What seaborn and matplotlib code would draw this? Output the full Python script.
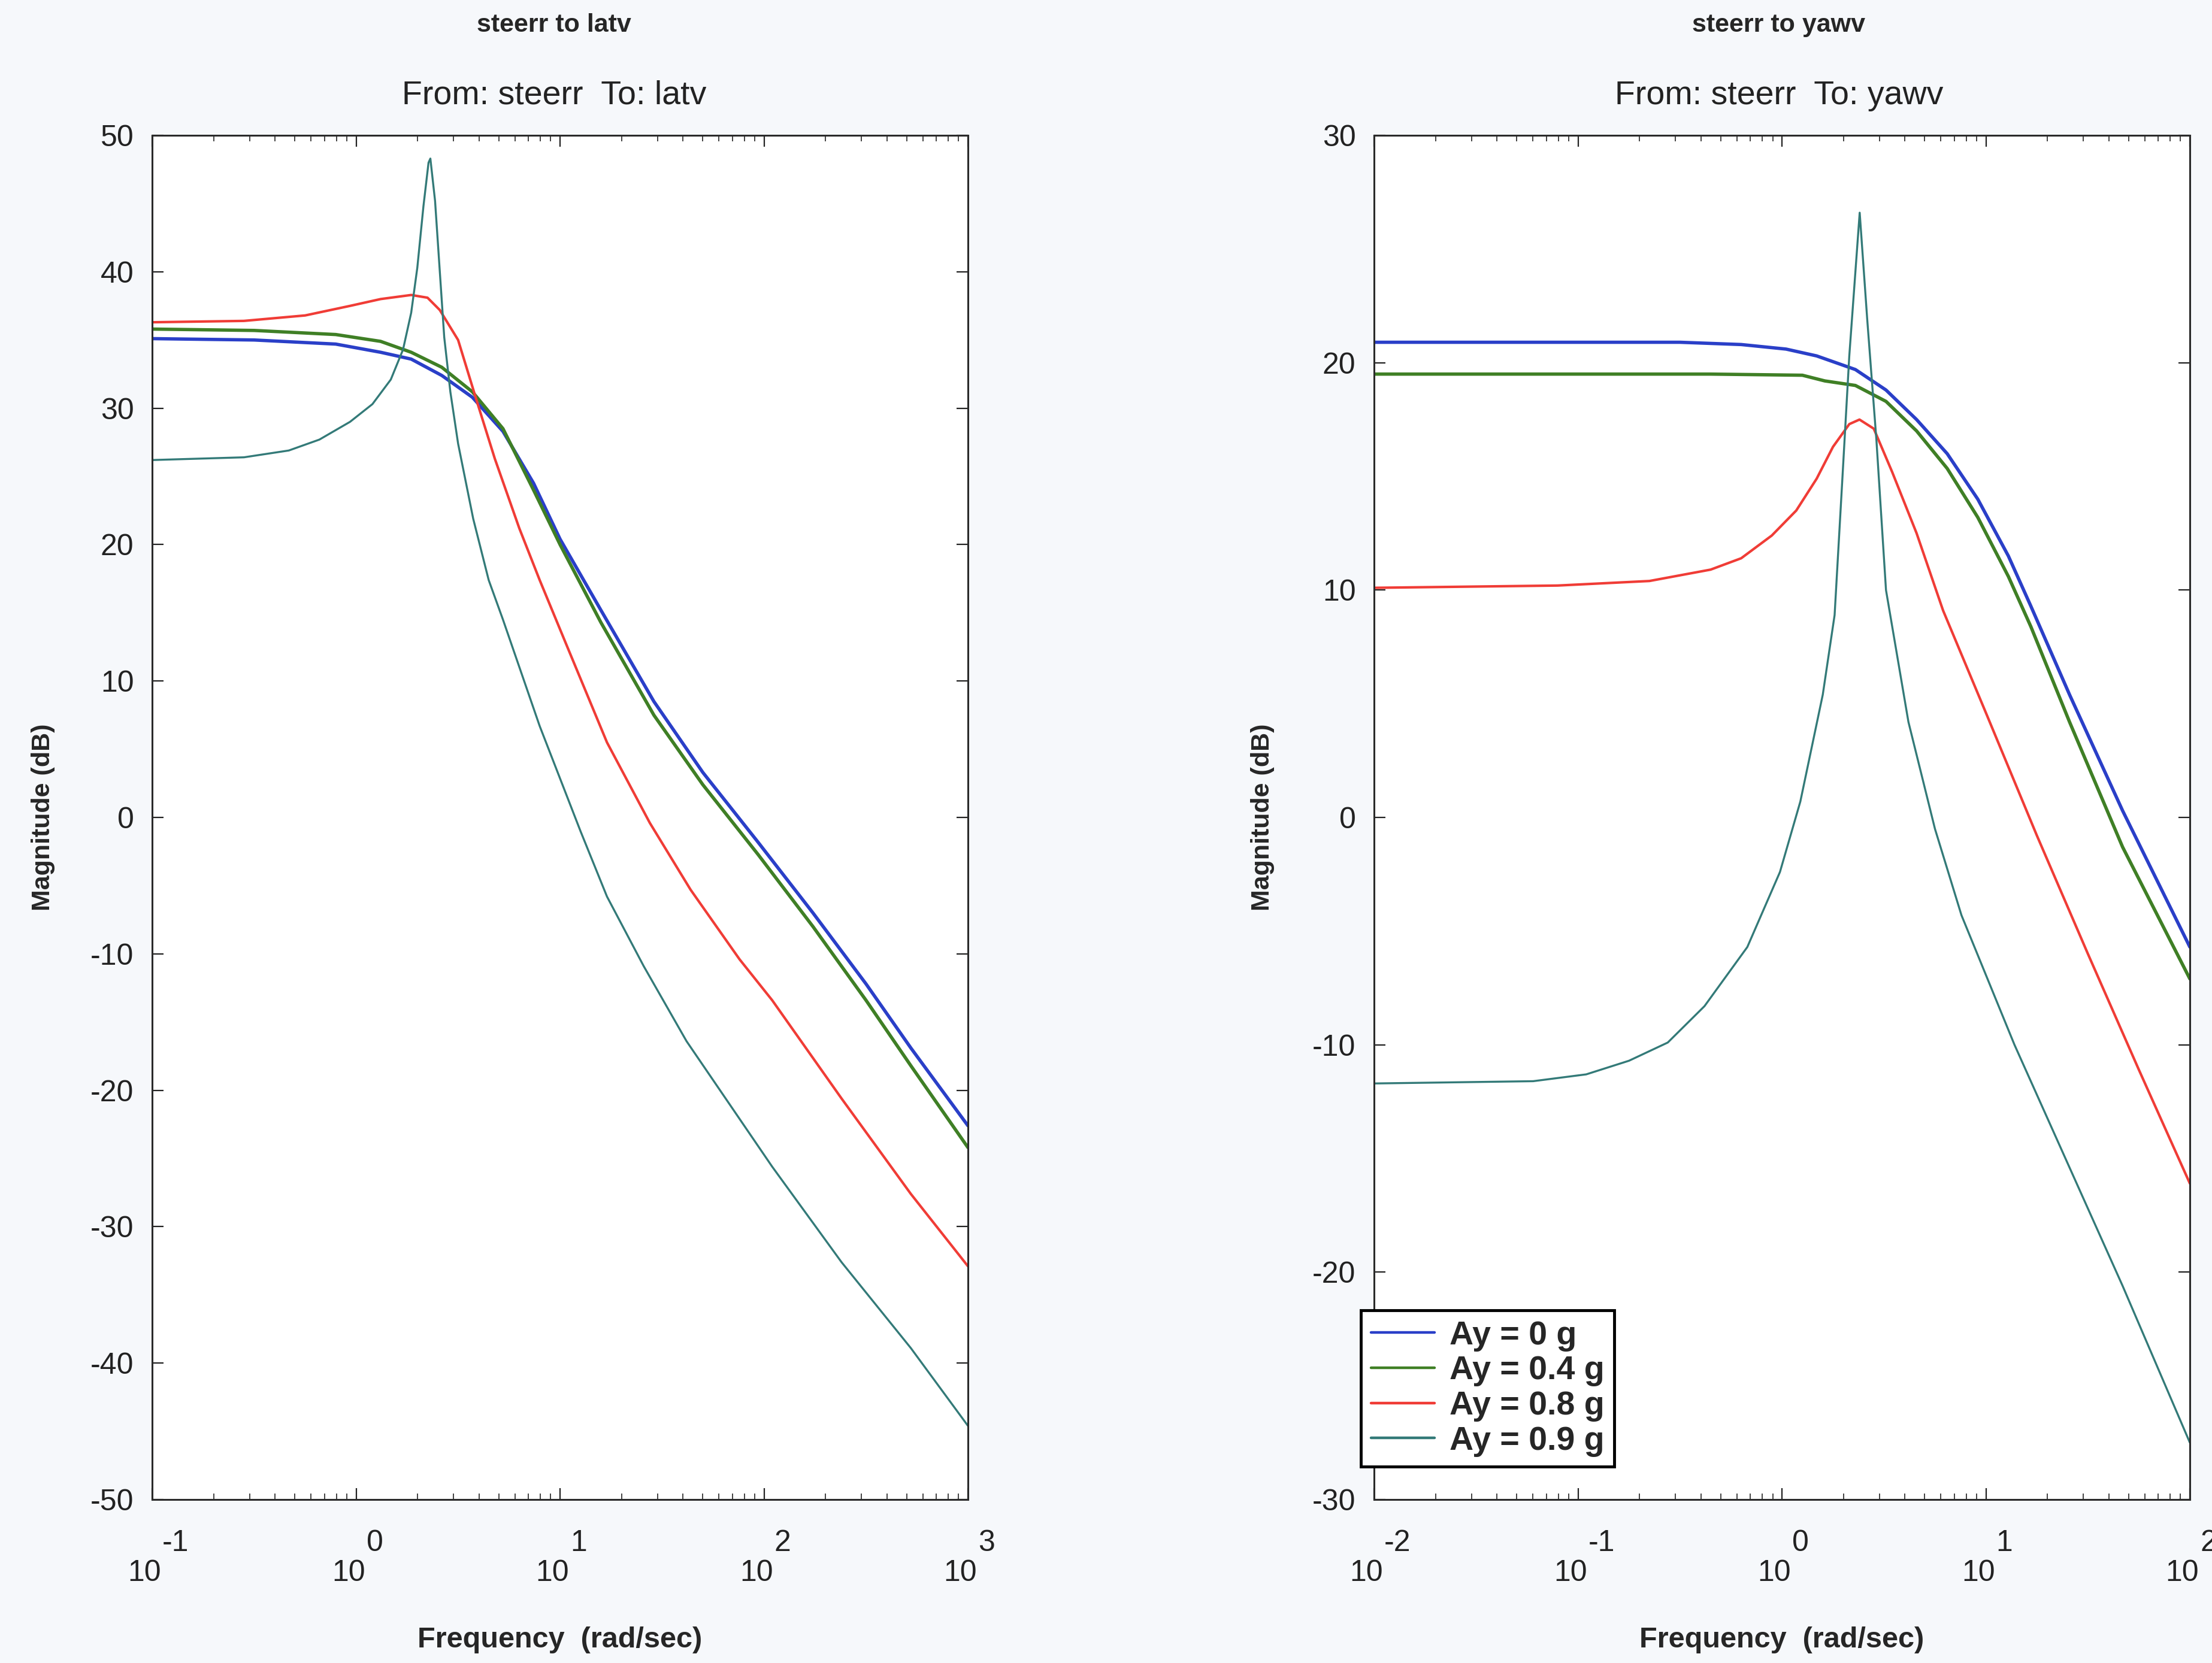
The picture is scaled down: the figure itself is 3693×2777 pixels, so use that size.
# === Setup ===
import numpy as np
import pandas as pd
import matplotlib
matplotlib.use("Agg")
import matplotlib.pyplot as plt
import matplotlib.transforms as mtransforms
from matplotlib.ticker import LogLocator, NullFormatter
from matplotlib.lines import Line2D
import seaborn as sns

# ===================== DATA =====================
# frequency given as log10(rad/sec), magnitude in dB
case_labels = ["Ay = 0 g", "Ay = 0.4 g", "Ay = 0.8 g", "Ay = 0.9 g"]

# --- steerr -> latv ---
latv_logw_0g = [-1, -0.5, -0.1, 0.12, 0.27, 0.42, 0.57, 0.72, 0.87, 1.0, 1.2, 1.46, 1.7, 1.97, 2.24, 2.5, 2.72, 3.0]
latv_db_0g = [35.1, 35.0, 34.7, 34.1, 33.6, 32.4, 30.8, 28.3, 24.5, 20.4, 15.2, 8.5, 3.3, -1.8, -7.0, -12.2, -16.9, -22.6]

latv_logw_04g = [-1, -0.5, -0.1, 0.12, 0.27, 0.42, 0.57, 0.72, 0.87, 1.0, 1.2, 1.46, 1.7, 1.97, 2.24, 2.5, 2.72, 3.0]
latv_db_04g = [35.8, 35.7, 35.4, 34.9, 34.1, 33.0, 31.2, 28.5, 24.0, 20.0, 14.3, 7.5, 2.4, -2.7, -8.0, -13.4, -18.2, -24.2]

latv_logw_08g = [-1, -0.55, -0.25, -0.03, 0.12, 0.27, 0.35, 0.41, 0.5, 0.59, 0.68, 0.8, 0.9,
                 1.03, 1.23, 1.44, 1.64, 1.88, 2.04, 2.38, 2.72, 3.0]
latv_db_08g = [36.3, 36.4, 36.8, 37.5, 38.0, 38.3, 38.1, 37.2, 35.0, 30.6, 26.3, 21.2, 17.4,
               12.7, 5.5, -0.4, -5.3, -10.4, -13.4, -20.6, -27.6, -32.9]

latv_logw_09g = [-1, -0.55, -0.33, -0.18, -0.03, 0.08, 0.17, 0.23, 0.27, 0.3, 0.33, 0.355, 0.364,
                 0.387, 0.409, 0.432, 0.462, 0.5, 0.574, 0.65, 0.72, 0.9, 1.1, 1.23, 1.41, 1.62,
                 2.04, 2.38, 2.72, 3.0]
latv_db_09g = [26.2, 26.4, 26.9, 27.7, 29.0, 30.3, 32.1, 34.3, 37.0, 40.3, 44.8, 48.0, 48.3,
               45.2, 40.3, 35.2, 31.2, 27.4, 21.9, 17.4, 14.5, 6.7, -1.0, -5.8, -10.9, -16.4,
               -25.6, -32.6, -38.9, -44.6]

# --- steerr -> yawv ---
yawv_logw_0g = [-2, -1, -0.5, -0.2, 0.02, 0.17, 0.36, 0.51, 0.66, 0.81, 0.96, 1.11, 1.22, 1.41, 1.67, 2.0]
yawv_db_0g = [20.9, 20.9, 20.9, 20.8, 20.6, 20.3, 19.7, 18.8, 17.5, 16.0, 14.0, 11.5, 9.3, 5.4, 0.3, -5.7]

yawv_logw_04g = [-2, -1, -0.35, 0.1, 0.21, 0.36, 0.51, 0.66, 0.81, 0.96, 1.11, 1.22, 1.41, 1.67, 2.0]
yawv_db_04g = [19.5, 19.5, 19.5, 19.45, 19.2, 19.0, 18.3, 17.0, 15.35, 13.2, 10.6, 8.4, 4.2, -1.3, -7.1]

yawv_logw_08g = [-2, -1.1, -0.65, -0.35, -0.2, -0.05, 0.07, 0.17, 0.25, 0.33, 0.38, 0.45, 0.54,
                 0.66, 0.79, 1.0, 1.25, 1.5, 1.75, 2.0]
yawv_db_08g = [10.1, 10.2, 10.4, 10.9, 11.4, 12.4, 13.5, 14.9, 16.3, 17.3, 17.5, 17.1, 15.2,
               12.5, 9.1, 4.6, -0.8, -6.0, -11.1, -16.1]

yawv_logw_09g = [-2, -1.22, -0.96, -0.75, -0.56, -0.38, -0.17, -0.01, 0.09, 0.2, 0.258, 0.298,
                 0.33, 0.381, 0.418, 0.463, 0.51, 0.62, 0.75, 0.88, 1.14, 1.41, 1.67, 2.0]
yawv_db_09g = [-11.7, -11.6, -11.3, -10.7, -9.9, -8.3, -5.7, -2.4, 0.7, 5.4, 8.9, 15.2,
               20.3, 26.6, 21.9, 16.6, 10.0, 4.2, -0.5, -4.3, -10.0, -15.4, -20.6, -27.5]

# ===================== STYLE =====================
case_colors = ["#2a3fc8", "#3f7f25", "#f03c36", "#337a78"]
case_widths = [4.0, 4.0, 3.0, 2.4]

TICK_FS = 36
BG = "#f6f8fb"


def make_frame(logw_list, db_list):
    frames = []
    for lab, lw, db in zip(case_labels, logw_list, db_list):
        frames.append(pd.DataFrame({"w": 10.0 ** np.array(lw), "db": db, "case": lab}))
    return pd.concat(frames, ignore_index=True)


latv_df = make_frame([latv_logw_0g, latv_logw_04g, latv_logw_08g, latv_logw_09g],
                     [latv_db_0g, latv_db_04g, latv_db_08g, latv_db_09g])
yawv_df = make_frame([yawv_logw_0g, yawv_logw_04g, yawv_logw_08g, yawv_logw_09g],
                     [yawv_db_0g, yawv_db_04g, yawv_db_08g, yawv_db_09g])

sns.set_theme(style="ticks")
plt.rcParams["font.family"] = ["Liberation Sans", "DejaVu Sans"]
plt.rcParams["axes.unicode_minus"] = False

fig = plt.figure(figsize=(36.93, 27.77), dpi=100, facecolor=BG)

ax_lat = fig.add_axes([0.0688, 0.0983, 0.3688, 0.8203])
ax_yaw = fig.add_axes([0.6212, 0.0983, 0.3688, 0.8203])

panels = [
    (ax_lat, latv_df, (0.1, 1000), range(-1, 4), (-50, 50), "steerr to latv", "From: steerr  To: latv", 0.2505),
    (ax_yaw, yawv_df, (0.01, 100), range(-2, 3), (-30, 30), "steerr to yawv", "From: steerr  To: yawv", 0.8042),
]

for ax, df, xlim, exps, ylim, title, subtitle, tx in panels:
    ax.set_facecolor("white")
    for lab, col, lw in zip(case_labels, case_colors, case_widths):
        sns.lineplot(data=df[df["case"] == lab], x="w", y="db", color=col, linewidth=lw,
                     estimator=None, sort=False, legend=False, ax=ax)
    ax.set_xscale("log")
    ax.set_xlim(*xlim)
    ax.set_ylim(*ylim)
    ax.set_yticks(np.arange(ylim[0], ylim[1] + 1, 10))
    ax.xaxis.set_major_locator(LogLocator(base=10, numticks=12))
    ax.xaxis.set_minor_locator(LogLocator(base=10, subs=np.arange(2, 10), numticks=12))
    ax.xaxis.set_major_formatter(NullFormatter())
    ax.xaxis.set_minor_formatter(NullFormatter())
    ax.tick_params(which="both", direction="in", top=True, right=True, colors="#222222")
    ax.tick_params(which="major", length=14, width=1.6, labelsize=TICK_FS, pad=22)
    ax.tick_params(which="minor", length=7, width=1.2)
    for sp in ax.spines.values():
        sp.set_color("#2a2a2a")
        sp.set_linewidth(2.2)
        sp.set_visible(True)

    # MATLAB style decade labels: "10" with the exponent raised above right
    trans = mtransforms.blended_transform_factory(ax.transData, fig.transFigure)
    base_tr = mtransforms.offset_copy(trans, fig=fig, x=15, y=0, units="dots")
    exp_tr = mtransforms.offset_copy(trans, fig=fig, x=17, y=0, units="dots")
    for e in exps:
        ax.text(10.0 ** e, 0.0493, "10", transform=base_tr, ha="right", va="baseline",
                fontsize=TICK_FS, color="#222222", clip_on=False)
        ax.text(10.0 ** e, 0.0673, str(e), transform=exp_tr, ha="left", va="baseline",
                fontsize=TICK_FS, color="#222222", clip_on=False)

    ax.set_xlabel("Frequency  (rad/sec)", fontsize=35, fontweight="bold")
    ax.xaxis.set_label_coords(0.5, -0.103)
    ax.xaxis.label.set_va("center")
    ax.set_ylabel("Magnitude (dB)", fontsize=31, fontweight="bold")
    ax.yaxis.label.set_va("center")

    fig.text(tx, 0.985, title, fontsize=31, fontweight="bold", ha="center", va="center")
    fig.text(tx, 0.9424, subtitle, fontsize=40, ha="center", va="center", color="#222222")

ax_lat.yaxis.set_label_coords(-0.134, 0.5)
ax_yaw.yaxis.set_label_coords(-0.137, 0.5)

handles = [Line2D([0], [0], color=c, linewidth=3.2) for c in case_colors]
leg = ax_yaw.legend(handles, case_labels, loc="lower left", bbox_to_anchor=(-0.016, 0.024),
                    bbox_transform=ax_yaw.transAxes, borderaxespad=0, frameon=True,
                    fancybox=False, prop={"weight": "bold", "size": 40},
                    handlelength=1.9, handletextpad=0.45, labelspacing=0.12, borderpad=0.3)
leg.get_frame().set_edgecolor("black")
leg.get_frame().set_linewidth(3.5)
leg.get_frame().set_facecolor("white")
leg.get_frame().set_alpha(1)

fig.savefig("out.png", dpi=100, facecolor=BG)
